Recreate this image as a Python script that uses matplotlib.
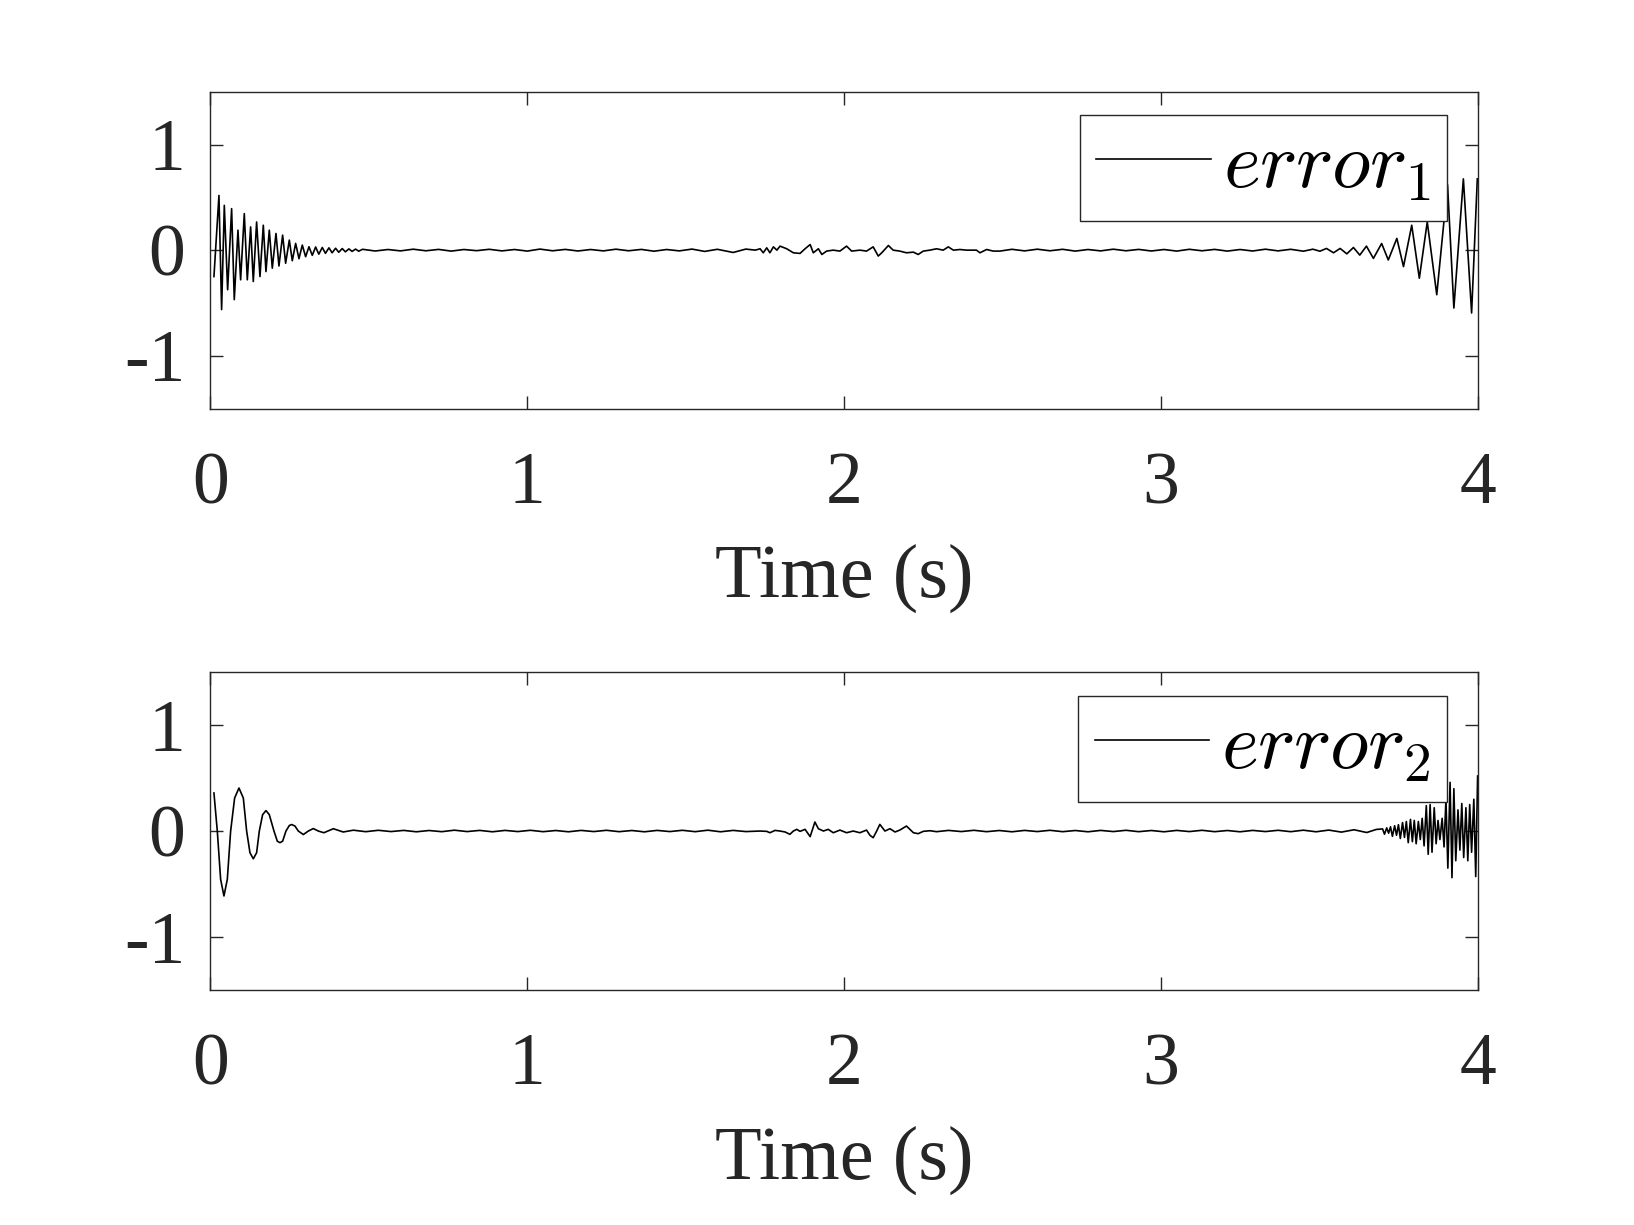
import numpy as np
import matplotlib
matplotlib.use("Agg")
import matplotlib.pyplot as plt

plt.rcParams['font.family'] = ['Liberation Serif', 'DejaVu Serif']
plt.rcParams['mathtext.fontset'] = 'cm'
plt.rcParams['axes.unicode_minus'] = False

# ---------------- data: error_1 ----------------
t1_start = [0.011, 0.0268, 0.0352, 0.0437, 0.0542, 0.0668, 0.0752, 0.0868, 0.0952, 0.1068,
            0.1163, 0.1268, 0.1352, 0.1457, 0.1563, 0.1668, 0.1752, 0.1857, 0.1952, 0.2068,
            0.2162, 0.2278, 0.2373, 0.2489, 0.2583, 0.2689, 0.2794, 0.2899, 0.3004, 0.3109,
            0.3214, 0.332, 0.342, 0.353, 0.363, 0.374, 0.384, 0.395, 0.405, 0.416, 0.426,
            0.437, 0.447, 0.458, 0.468]
e1_start = [-0.25, 0.518, -0.563, 0.424, -0.375, 0.393, -0.469, 0.189, -0.281, 0.346,
            -0.281, 0.220, -0.297, 0.267, -0.250, 0.236, -0.203, 0.189, -0.171, 0.158,
            -0.150, 0.142, -0.124, 0.095, -0.100, 0.064, -0.081, 0.048, -0.062, 0.032,
            -0.049, 0.030, -0.038, 0.025, -0.030, 0.022, -0.025, 0.018, -0.020, 0.015, -0.016,
            0.012, -0.012, 0.010, -0.010]

t1_quiet_a = [0.48, 0.52, 0.56, 0.60, 0.64, 0.68, 0.72, 0.76, 0.80, 0.84, 0.88, 0.92, 0.96,
              1.00, 1.04, 1.08, 1.12, 1.16, 1.20, 1.24, 1.28, 1.32, 1.36, 1.40, 1.44, 1.48,
              1.52, 1.56, 1.60, 1.65, 1.69]
e1_quiet_a = [0.008, -0.008, 0.006, -0.007, 0.009, -0.006, 0.007, -0.009, 0.006, -0.005,
              0.008, -0.007, 0.006, -0.009, 0.010, -0.006, 0.007, -0.008, 0.006, -0.007,
              0.009, -0.006, 0.007, -0.010, 0.006, -0.007, 0.010, -0.012, 0.008, -0.022, 0.010]

t1_mid = [1.720, 1.735, 1.745, 1.756, 1.766, 1.777, 1.788, 1.798, 1.819, 1.840, 1.861, 1.877,
          1.893, 1.903, 1.919, 1.930, 1.945, 1.966, 1.987, 2.008, 2.024, 2.050, 2.071, 2.092,
          2.108, 2.119, 2.140, 2.155, 2.176, 2.197, 2.219, 2.234, 2.250, 2.271, 2.292, 2.313,
          2.329, 2.345, 2.366, 2.387, 2.418, 2.429, 2.450, 2.471, 2.492]
e1_mid = [0.0, 0.013, -0.025, 0.022, -0.025, 0.031, 0.0, 0.038, 0.013, -0.025, -0.031, 0.013,
          0.053, -0.025, 0.013, -0.041, -0.009, 0.0, -0.009, 0.038, -0.009, 0.0, -0.009, 0.031,
          -0.056, -0.025, 0.044, 0.0, -0.009, -0.025, -0.019, -0.041, -0.009, 0.0, 0.013, 0.0,
          0.031, 0.0, 0.006, 0.0, 0.0, -0.025, 0.006, -0.009, -0.009]

t1_quiet_b = [2.53, 2.57, 2.61, 2.65, 2.69, 2.73, 2.77, 2.81, 2.85, 2.89, 2.93, 2.97, 3.01,
              3.05, 3.09, 3.13, 3.17, 3.21, 3.25, 3.29, 3.33, 3.37, 3.41, 3.45, 3.48]
e1_quiet_b = [0.008, -0.007, 0.009, -0.006, 0.008, -0.009, 0.006, -0.007, 0.009, -0.006,
              0.007, -0.008, 0.006, -0.009, 0.008, -0.006, 0.007, -0.009, 0.006, -0.008,
              0.009, -0.007, 0.008, -0.010, 0.009]

t1_end = [3.502, 3.523, 3.545, 3.566, 3.587, 3.608, 3.628, 3.649, 3.671, 3.697, 3.718, 3.745,
          3.766, 3.792, 3.816, 3.841, 3.871, 3.905, 3.925, 3.955, 3.981, 3.999]
e1_end = [-0.010, 0.016, -0.025, 0.016, -0.035, 0.025, -0.047, 0.038, -0.078, 0.063, -0.093,
          0.111, -0.156, 0.236, -0.266, 0.267, -0.422, 0.62, -0.548, 0.675, -0.595, 0.675]

# ---------------- data: error_2 ----------------
t2_start = [0.011, 0.0216, 0.0321, 0.0426, 0.0532, 0.0637, 0.0763, 0.0900, 0.1037, 0.1142,
            0.1247, 0.1352, 0.1457, 0.1542, 0.1647, 0.1752, 0.1857, 0.2005, 0.211, 0.2194,
            0.2278, 0.2383, 0.2489, 0.2563, 0.2668, 0.2773, 0.2931, 0.309, 0.3247, 0.3405,
            0.358, 0.388, 0.419, 0.451]
e2_start = [0.359, 0.0, -0.456, -0.613, -0.456, 0.0, 0.312, 0.406, 0.312, 0.0,
            -0.205, -0.262, -0.205, 0.0, 0.155, 0.193, 0.155, 0.0, -0.096, -0.110,
            -0.096, 0.0, 0.052, 0.0615, 0.047, 0.0, -0.033, 0.0, 0.0235, 0.0,
            -0.016, 0.022, -0.009, 0.008]

t2_quiet_a = [0.49, 0.53, 0.57, 0.61, 0.65, 0.69, 0.73, 0.77, 0.81, 0.85, 0.89, 0.93, 0.97,
              1.01, 1.05, 1.09, 1.13, 1.17, 1.21, 1.25, 1.29, 1.33, 1.37, 1.41, 1.45, 1.49,
              1.53, 1.57, 1.61, 1.65, 1.69]
e2_quiet_a = [-0.006, 0.007, -0.005, 0.006, -0.007, 0.005, -0.006, 0.008, -0.005, 0.006,
              -0.007, 0.006, -0.005, 0.007, -0.006, 0.005, -0.007, 0.006, -0.005, 0.007,
              -0.006, 0.005, -0.007, 0.006, -0.005, 0.007, -0.006, 0.008, -0.007, 0.006, -0.005]

t2_mid = [1.735, 1.756, 1.766, 1.782, 1.798, 1.814, 1.829, 1.840, 1.851, 1.861, 1.877, 1.893,
          1.908, 1.919, 1.935, 1.950, 1.966, 1.987, 2.008, 2.029, 2.050, 2.071, 2.082, 2.092,
          2.103, 2.113, 2.129, 2.145, 2.161, 2.176, 2.197, 2.219, 2.234, 2.250, 2.271, 2.292]
e2_mid = [0.0, -0.003, -0.016, 0.006, 0.0, -0.009, -0.031, 0.0, 0.016, -0.003, 0.016, -0.053,
          0.085, 0.022, 0.0, 0.016, -0.016, 0.009, -0.016, 0.0, -0.016, 0.009, -0.041, -0.063,
          0.0, 0.063, 0.0, 0.022, -0.009, 0.009, 0.047, -0.016, -0.025, -0.003, 0.003, -0.006]

t2_quiet_b = [2.33, 2.37, 2.41, 2.45, 2.49, 2.53, 2.57, 2.61, 2.65, 2.69, 2.73, 2.77, 2.81,
              2.85, 2.89, 2.93, 2.97, 3.01, 3.05, 3.09, 3.13, 3.17, 3.21, 3.25, 3.29, 3.33,
              3.37, 3.41, 3.45, 3.49, 3.53, 3.57, 3.61, 3.65, 3.68]
e2_quiet_b = [0.006, -0.005, 0.007, -0.006, 0.005, -0.007, 0.006, -0.005, 0.007, -0.006,
              0.005, -0.007, 0.006, -0.005, 0.007, -0.006, 0.005, -0.007, 0.006, -0.005,
              0.007, -0.006, 0.005, -0.007, 0.006, -0.005, 0.007, -0.006, 0.008, -0.007,
              0.009, -0.010, 0.012, -0.014, 0.015]

t2_end = [3.700, 3.706, 3.713, 3.719, 3.725, 3.731, 3.738, 3.744, 3.750, 3.756, 3.763, 3.769,
          3.775, 3.781, 3.788, 3.794, 3.800, 3.806, 3.813, 3.819, 3.825, 3.831, 3.838, 3.844,
          3.850, 3.856, 3.863, 3.869, 3.875, 3.881, 3.888, 3.894, 3.900, 3.906, 3.913, 3.919,
          3.925, 3.931, 3.938, 3.944, 3.950, 3.956, 3.963, 3.969, 3.975, 3.981, 3.988, 3.994,
          4.000]
e2_end = [0.02, -0.03, 0.03, -0.02, 0.04, -0.05, 0.05, -0.04, 0.06, -0.07, 0.08, -0.06,
          0.09, -0.11, 0.11, -0.10, 0.10, -0.12, 0.09, -0.08, 0.12, -0.14, 0.24, -0.22,
          0.25, -0.20, 0.22, -0.12, 0.10, -0.08, 0.12, -0.15, 0.30, -0.35, 0.46, -0.44,
          0.40, -0.28, 0.20, -0.18, 0.26, -0.25, 0.22, -0.28, 0.25, -0.20, 0.30, -0.43,
          0.52]

x_ticks = [0, 1, 2, 3, 4]
y_ticks = [-1, 0, 1]
x_label = "Time (s)"
legend_labels = [r"$error_1$", r"$error_2$"]

t1 = np.concatenate([t1_start, t1_quiet_a, t1_mid, t1_quiet_b, t1_end])
e1 = np.concatenate([e1_start, e1_quiet_a, e1_mid, e1_quiet_b, e1_end])
t2 = np.concatenate([t2_start, t2_quiet_a, t2_mid, t2_quiet_b, t2_end])
e2 = np.concatenate([e2_start, e2_quiet_a, e2_mid, e2_quiet_b, e2_end])

fig = plt.figure(figsize=(16.34, 12.25), dpi=100)
ax1 = fig.add_axes([0.1288, 0.6665, 0.7755, 0.2586])
ax2 = fig.add_axes([0.1288, 0.1919, 0.7755, 0.2594])

dark = '#262626'
for ax, t, e, lab, anchor in [(ax1, t1, e1, legend_labels[0], (0.9758, 0.9265)),
                              (ax2, t2, e2, legend_labels[1], (0.9758, 0.9248))]:
    ax.plot(t, e, color='black', lw=1.2, label=lab)
    ax.set_xlim(0, 4)
    ax.set_ylim(-1.5, 1.5)
    ax.set_xticks(x_ticks)
    ax.set_yticks(y_ticks)
    ax.tick_params(direction='in', length=9.5, width=1.0, top=True, right=True,
                   labelsize=53, colors=dark)
    ax.tick_params(axis='x', pad=31)
    ax.tick_params(axis='y', pad=18)
    for sp in ax.spines.values():
        sp.set_color(dark)
        sp.set_linewidth(1.0)
    ax.set_xlabel(x_label, fontsize=55, color=dark, labelpad=18)
    leg = ax.legend(loc='upper right', bbox_to_anchor=anchor, borderaxespad=0,
                    fontsize=57, handlelength=1.45, handletextpad=0.15, borderpad=0.21,
                    frameon=True, fancybox=False, edgecolor=dark, framealpha=1)
    leg.get_frame().set_linewidth(1.0)

fig.savefig("out.png", dpi=100)
